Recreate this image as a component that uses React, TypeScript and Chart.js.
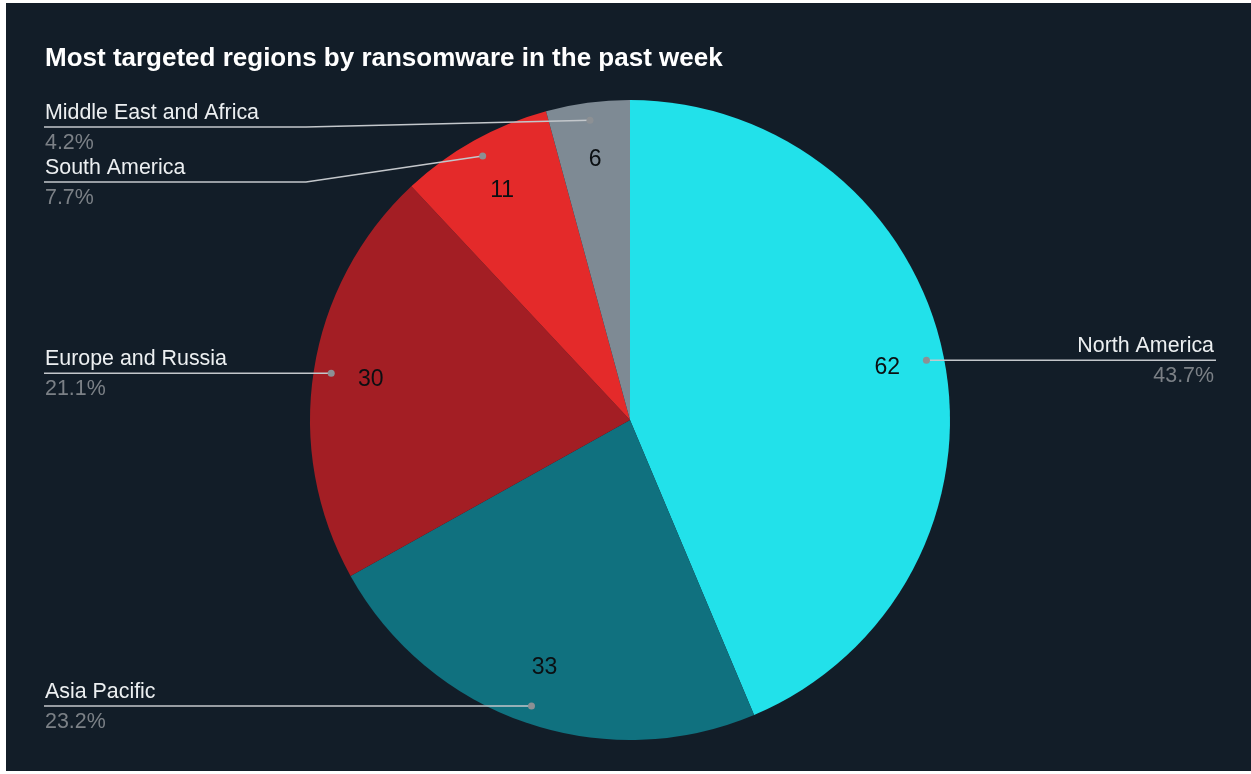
import React, { useEffect, useRef } from "react";
import { Chart, registerables } from "chart.js";

Chart.register(...registerables);

const TITLE = "Most targeted regions by ransomware in the past week";
const regions = ["North America", "Asia Pacific", "Europe and Russia", "South America", "Middle East and Africa"];
const counts = [62, 33, 30, 11, 6];
const sliceColors = ["#22e1ea", "#10717f", "#a31e24", "#e42a2a", "#7e8a94"];

const W = 1245;
const H = 768;
const FONT = '"Liberation Sans", Arial, sans-serif';

const labelPlugin = {
  id: "sheetLabels",
  afterDatasetsDraw(chart: any) {
    const ctx = chart.ctx as CanvasRenderingContext2D;
    const meta = chart.getDatasetMeta(0);
    const total = counts.reduce((a, b) => a + b, 0);
    ctx.save();
    // title
    ctx.font = `bold 26px ${FONT}`;
    ctx.fillStyle = "#ffffff";
    ctx.textBaseline = "middle";
    ctx.textAlign = "left";
    ctx.fillText(TITLE, 39, 56);

    const items: any[] = [];
    meta.data.forEach((arc: any, i: number) => {
      const p = arc.getProps(["x", "y", "startAngle", "endAngle", "outerRadius"], true);
      const mid = (p.startAngle + p.endAngle) / 2;
      const cos = Math.cos(mid);
      const sin = Math.sin(mid);
      // value label
      ctx.font = `23px ${FONT}`;
      ctx.fillStyle = "#0b0f12";
      ctx.textAlign = "center";
      ctx.textBaseline = "middle";
      ctx.fillText(String(counts[i]), p.x + cos * p.outerRadius * 0.82, p.y + sin * p.outerRadius * 0.82);
      items.push({
        i,
        dx: p.x + cos * p.outerRadius * 0.945,
        dy: p.y + sin * p.outerRadius * 0.945,
        left: cos < 0,
      });
    });

    const drawDot = (x: number, y: number) => {
      ctx.beginPath();
      ctx.fillStyle = "#8c9094";
      ctx.arc(x, y, 3.5, 0, Math.PI * 2);
      ctx.fill();
    };
    const drawTexts = (i: number, x: number, lineY: number, align: CanvasTextAlign) => {
      ctx.textAlign = align;
      ctx.textBaseline = "middle";
      ctx.font = `21.4px ${FONT}`;
      ctx.fillStyle = "#eceff1";
      ctx.fillText(regions[i], x, lineY - 14);
      ctx.fillStyle = "#7b8086";
      ctx.fillText(((counts[i] / total) * 100).toFixed(1) + "%", x, lineY + 16);
    };

    ctx.strokeStyle = "#c3c7cb";
    ctx.lineWidth = 1.5;

    // right side
    items.filter((it) => !it.left).forEach((it) => {
      ctx.beginPath();
      ctx.moveTo(it.dx, it.dy);
      ctx.lineTo(1210, it.dy);
      ctx.stroke();
      drawDot(it.dx, it.dy);
      drawTexts(it.i, 1208, it.dy, "right");
    });

    // left side
    const left = items.filter((it) => it.left).sort((a, b) => a.dy - b.dy);
    let prev = -Infinity;
    const minY = 124;
    const elbowX = 300;
    left.forEach((it) => {
      const lineY = Math.max(it.dy, prev + 55, minY);
      prev = lineY;
      ctx.strokeStyle = "#c3c7cb";
      ctx.beginPath();
      ctx.moveTo(it.dx, it.dy);
      if (Math.abs(lineY - it.dy) > 0.5) {
        ctx.lineTo(elbowX, lineY);
      }
      ctx.lineTo(38, lineY);
      ctx.stroke();
      drawDot(it.dx, it.dy);
      drawTexts(it.i, 39, lineY, "left");
    });
    ctx.restore();
  },
};

export default function App() {
  const ref = useRef<HTMLCanvasElement | null>(null);
  useEffect(() => {
    document.body.style.margin = "0";
    const canvas = ref.current;
    if (!canvas) return;
    const chart = new Chart(canvas, {
      type: "pie",
      data: {
        labels: regions,
        datasets: [
          {
            data: counts,
            backgroundColor: sliceColors,
            borderWidth: 0,
          },
        ],
      },
      options: {
        responsive: false,
        animation: false,
        devicePixelRatio: 1,
        rotation: 0,
        layout: { padding: { left: 304, right: 301, top: 97, bottom: 31 } },
        plugins: {
          legend: { display: false },
          tooltip: { enabled: false },
          title: { display: false },
        },
        events: [],
      },
      plugins: [labelPlugin],
    } as any);
    return () => chart.destroy();
  }, []);
  return (
    <div style={{ position: "fixed", left: 0, top: 0, width: 1251, height: 774, background: "#ffffff" }}>
      <canvas
        ref={ref}
        width={W}
        height={H}
        style={{ position: "absolute", left: 6, top: 3, width: W, height: H, background: "#121d28" }}
      />
    </div>
  );
}
